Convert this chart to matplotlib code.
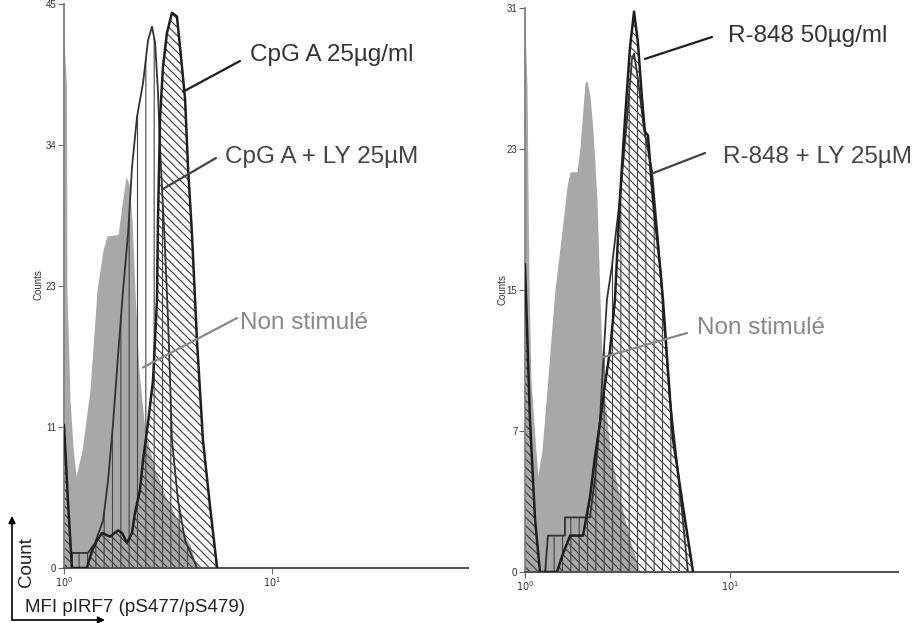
import numpy as np
import matplotlib
matplotlib.use("Agg")
import matplotlib.pyplot as plt
from matplotlib.ticker import NullLocator

# ---- data (x stored as log10 of MFI, y = counts) ----
# left panel : CpG A
grey_l_log = [0, 0.005, 0.012, 0.014, 0.029, 0.044, 0.058, 0.087, 0.125, 0.159,
              0.188, 0.207, 0.260, 0.279, 0.298, 0.313, 0.327, 0.341, 0.360, 0.389,
              0.438, 0.486, 0.558, 0.606, 0.640]
grey_l_cnt = [42.9, 40.5, 38.3, 22.2, 13.4, 9.5, 7.3, 9.4, 14.2, 22.2,
              25.4, 26.5, 26.6, 29.0, 31.2, 30.6, 27.8, 22.2, 15.8, 11.0,
              7.8, 5.8, 3.4, 1.8, 0.0]

cpg_log = [0, 0.019, 0.038, 0.110, 0.135, 0.159, 0.183, 0.221, 0.260, 0.279,
           0.303, 0.327, 0.341, 0.365, 0.380, 0.404, 0.428, 0.447, 0.452, 0.457,
           0.462, 0.476, 0.495, 0.519, 0.543, 0.567, 0.582, 0.596, 0.615, 0.630,
           0.639, 0.668, 0.702, 0.736]
cpg_cnt = [11.4, 5.4, 0.0, 0.0, 1.4, 2.2, 2.8, 2.5, 3.0, 2.8,
           2.0, 2.8, 4.4, 6.2, 8.6, 11.6, 15.0, 21.4, 28.0, 32.0,
           36.0, 40.0, 42.7, 44.3, 44.0, 40.0, 37.4, 32.0, 26.7, 21.4,
           18.2, 10.2, 4.9, 0.0]

cpg_ly_log = [0.038, 0.038, 0.115, 0.149, 0.188, 0.212, 0.236, 0.260, 0.284, 0.308,
              0.327, 0.351, 0.380, 0.404, 0.423, 0.438, 0.452, 0.462, 0.486, 0.500,
              0.510, 0.519, 0.548, 0.582, 0.640]
cpg_ly_cnt = [0.0, 1.2, 1.2, 2.0, 3.8, 7.0, 11.6, 17.0, 22.2, 26.7,
              32.0, 36.0, 38.7, 42.1, 43.2, 41.9, 37.9, 33.4, 25.4, 19.8,
              15.0, 10.2, 5.4, 2.2, 0.0]

# right panel : R-848
grey_r_log = [0, 0.010, 0.015, 0.020, 0.029, 0.049, 0.063, 0.083, 0.107, 0.146,
              0.180, 0.205, 0.220, 0.254, 0.268, 0.293, 0.302, 0.317, 0.332, 0.351,
              0.366, 0.380, 0.415, 0.463, 0.512, 0.561]
grey_r_cnt = [29.9, 26.6, 20.5, 15.5, 10.6, 7.3, 5.3, 6.7, 10.0, 15.5,
              18.7, 21.2, 22.0, 22.0, 23.3, 26.9, 27.0, 26.2, 24.2, 20.5,
              15.0, 10.6, 6.7, 4.0, 1.8, 0.0]

r848_log = [0, 0.024, 0.049, 0.073, 0.156, 0.185, 0.220, 0.283, 0.317, 0.341,
            0.366, 0.390, 0.415, 0.439, 0.463, 0.488, 0.512, 0.532, 0.551, 0.571,
            0.585, 0.600, 0.624, 0.659, 0.673, 0.693, 0.722, 0.771, 0.820]
r848_cnt = [16.9, 8.4, 2.9, 0.0, 0.0, 1.0, 2.0, 2.0, 4.1, 6.3,
            8.2, 10.3, 12.2, 15.0, 20.5, 24.9, 28.8, 30.8, 29.1, 26.0,
            24.2, 24.0, 20.5, 16.8, 15.0, 11.8, 7.3, 3.6, 0.0]

r848_ly_log = [0.098, 0.112, 0.195, 0.195, 0.317, 0.341, 0.366, 0.385, 0.400, 0.424,
               0.463, 0.498, 0.522, 0.532, 0.551, 0.580, 0.620, 0.649, 0.678, 0.707,
               0.746, 0.795]
r848_ly_cnt = [0.0, 2.0, 2.0, 3.0, 3.0, 5.1, 8.4, 12.2, 15.0, 16.8,
               20.5, 24.9, 28.2, 28.5, 27.1, 24.4, 22.0, 18.3, 13.9, 9.5,
               5.6, 0.0]

left_ytick_labels = ["0", "11", "23", "34", "45"]
right_ytick_labels = ["0", "7", "15", "23", "31"]

plt.rcParams['font.family'] = ['Liberation Sans', 'DejaVu Sans']
plt.rcParams['hatch.linewidth'] = 0.8

GREY = '#a8a8a8'


def draw_panel(ax, g_log, g_cnt, d_log, d_cnt, v_log, v_cnt, ymax, ylabels, xmax_log):
    g = 10 ** np.array(g_log)
    d = 10 ** np.array(d_log)
    v = 10 ** np.array(v_log)
    ax.fill_between(g, g_cnt, color=GREY, lw=0, zorder=1)
    ax.fill_between(d, d_cnt, facecolor='none', edgecolor='#3a3a3a',
                    hatch='\\\\\\\\', lw=0, zorder=2)
    ax.fill_between(v, v_cnt, facecolor='none', edgecolor='#444444',
                    hatch='||', lw=0, zorder=2)
    ax.plot(v, v_cnt, color='#333333', lw=1.3, zorder=3)
    ax.plot(d, d_cnt, color='#1e1e1e', lw=1.8, zorder=4)

    ax.set_xscale('log')
    ax.set_xlim(1, 10 ** xmax_log)
    ax.set_ylim(0, ymax)
    ax.set_xticks([1, 10])
    ax.set_xticklabels(['$10^0$', '$10^1$'])
    ax.xaxis.set_minor_locator(NullLocator())
    ax.set_yticks(np.linspace(0, ymax, 5))
    ax.set_yticklabels(ylabels)
    for s in ['top', 'right']:
        ax.spines[s].set_visible(False)
    ax.spines['left'].set_color('#777777')
    ax.spines['left'].set_linewidth(1.2)
    ax.spines['bottom'].set_color('#555555')
    ax.spines['bottom'].set_linewidth(1.5)
    ax.tick_params(axis='both', length=4, width=0.8, colors='#666666',
                   labelcolor='#333333', labelsize=7, pad=1.5)


fig = plt.figure(figsize=(9.22, 6.23), dpi=100)
axL = fig.add_axes([64 / 922, 55 / 623, 404 / 922, 564 / 623])
axR = fig.add_axes([525 / 922, 51 / 623, 373 / 922, 564 / 623])

draw_panel(axL, grey_l_log, grey_l_cnt, cpg_log, cpg_cnt, cpg_ly_log, cpg_ly_cnt,
           45, left_ytick_labels, 1.942)
draw_panel(axR, grey_r_log, grey_r_cnt, r848_log, r848_cnt, r848_ly_log, r848_ly_cnt,
           31, right_ytick_labels, 1.82)

fig.text(38 / 922, 1 - 285 / 623, 'Counts', rotation=90, fontsize=7,
         ha='center', va='center', color='#333333')
fig.text(502 / 922, 1 - 290 / 623, 'Counts', rotation=90, fontsize=7,
         ha='center', va='center', color='#333333')

# labels with pointer lines: (axis, text, point on curve (log, count), line end, text pos, colours)
labels = [
    (axL, 'CpG A 25µg/ml', (0.572, 38.0), (240, 61), (250, 55), '#333333', '#1e1e1e'),
    (axL, 'CpG A + LY 25µM', (0.471, 30.2), (216, 158), (225, 157), '#444444', '#444444'),
    (axL, 'Non stimulé', (0.380, 16.0), (237, 318), (240, 323), '#888888', '#888888'),
    (axR, 'R-848 50µg/ml', (0.585, 28.2), (712, 37), (728, 36), '#333333', '#1e1e1e'),
    (axR, 'R-848 + LY 25µM', (0.6195, 21.9), (705, 153), (723, 157), '#444444', '#444444'),
    (axR, 'Non stimulé', (0.380, 11.8), (687, 333), (697, 328), '#888888', '#888888'),
]
for ax, txt, pt, lend, tpos, tcol, lcol in labels:
    ax.annotate('', xy=(10 ** pt[0], pt[1]), xycoords='data',
                xytext=(lend[0] / 922, 1 - lend[1] / 623), textcoords='figure fraction',
                arrowprops=dict(arrowstyle='-', color=lcol, lw=1.6,
                                shrinkA=0, shrinkB=0), zorder=6)
    fig.text(tpos[0] / 922, 1 - tpos[1] / 623, txt, fontsize=17.5, color=tcol,
             ha='left', va='center')

# axis legend arrows, bottom left
origin = (12 / 922, 1 - 620 / 623)
axL.annotate('', xy=(12 / 922, 1 - 516 / 623), xycoords='figure fraction',
             xytext=origin, textcoords='figure fraction',
             arrowprops=dict(arrowstyle='-|>', color='black', lw=1.2,
                             mutation_scale=10, shrinkA=0, shrinkB=0))
axL.annotate('', xy=(105 / 922, 1 - 620 / 623), xycoords='figure fraction',
             xytext=origin, textcoords='figure fraction',
             arrowprops=dict(arrowstyle='-|>', color='black', lw=1.2,
                             mutation_scale=10, shrinkA=0, shrinkB=0))
fig.text(27 / 922, 1 - 562 / 623, 'Count', rotation=90, fontsize=13.5,
         ha='center', va='center', color='#222222')
fig.text(25 / 922, 1 - 607 / 623, 'MFI pIRF7 (pS477/pS479)', fontsize=13.5,
         ha='left', va='center', color='#222222')

fig.savefig('out.png', dpi=100)
